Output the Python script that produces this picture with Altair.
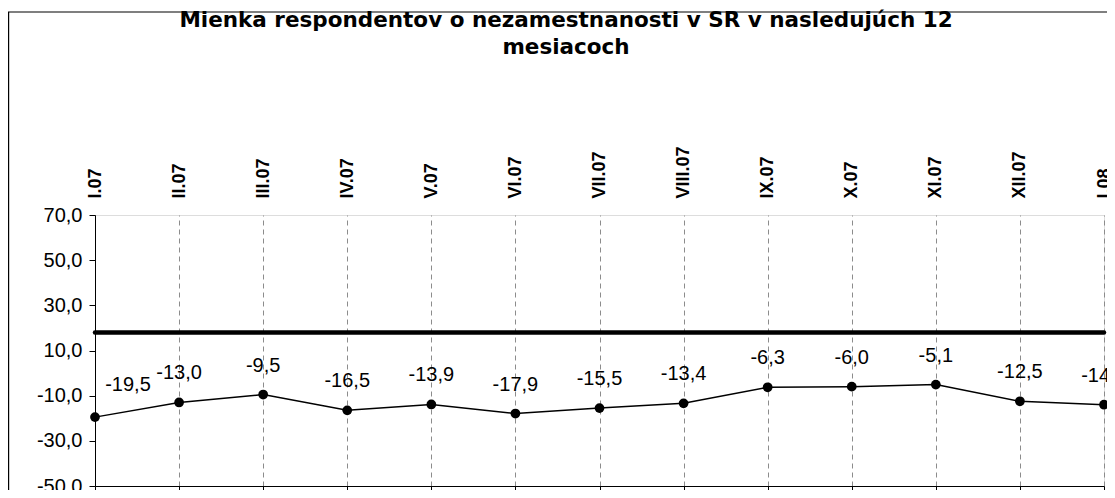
import altair as alt
import pandas as pd

months = ["I.07", "II.07", "III.07", "IV.07", "V.07", "VI.07", "VII.07",
          "VIII.07", "IX.07", "X.07", "XI.07", "XII.07", "I.08"]
values = [-19.5, -13.0, -9.5, -16.5, -13.9, -17.9, -15.5, -13.4,
          -6.3, -6.0, -5.1, -12.5, -14.0]
ref_level = [18.0]
title_lines = ["Mienka respondentov o nezamestnanosti v SR v nasledujúch 12", "mesiacoch"]
y_ticks = [-50, -30, -10, 10, 30, 50, 70]

df = pd.DataFrame({"month": months, "value": values})
df["label"] = [f"{v:.1f}".replace(".", ",") for v in values]
ref_df = pd.DataFrame({"level": ref_level})

FONT = "Liberation Sans"
W, H = 1009, 271
LABEL_EXPR = "replace(replace(format(datum.value, '.1f'), '.', ','), '\u2212', '-')"

x_scale = alt.Scale(type="point", padding=0)
y_scale = alt.Scale(domain=[-50, 70], nice=False, zero=False)

x_top = alt.X("month:O", sort=months, scale=x_scale, title=None,
              axis=alt.Axis(orient="top", labelAngle=-90, labelAlign="left",
                            labelBaseline="middle",
                            labelFont=FONT, labelFontWeight="bold", labelFontSize=18,
                            labelColor="black", labelPadding=17, ticks=False,
                            domain=False, grid=True, gridDash=[5, 4],
                            gridColor="#8c8c8c", gridWidth=1))
x_bottom = alt.X("month:O", sort=months, scale=x_scale, title=None,
                 axis=alt.Axis(orient="bottom", labels=False, ticks=True, tickSize=5,
                               tickColor="black", domain=True, domainColor="black",
                               grid=False))
x_plain = alt.X("month:O", sort=months, scale=x_scale, title=None, axis=None)


def y_axis():
    return alt.Axis(values=y_ticks, labelExpr=LABEL_EXPR,
                    labelFont=FONT, labelFontSize=20, labelColor="black",
                    labelPadding=7, tickSize=6, tickColor="black",
                    domainColor="black", grid=False)


y_enc = alt.Y("value:Q", scale=y_scale, title=None, axis=y_axis())

base = alt.Chart(df)

line = base.mark_line(color="black", strokeWidth=1.5).encode(x=x_top, y=y_enc)
bottom_axis = base.mark_line(opacity=0).encode(x=x_bottom, y=y_enc)
points = base.mark_circle(color="black", opacity=1, size=95).encode(x=x_plain, y=y_enc)
labels_first = base.mark_text(font=FONT, fontSize=20, color="black", dx=33, dy=-32,
                              baseline="middle").encode(
    x=x_plain, y=y_enc, text="label:N").transform_filter(alt.datum.month == months[0])
labels_rest = base.mark_text(font=FONT, fontSize=20, color="black", dy=-29,
                             baseline="middle").encode(
    x=x_plain, y=y_enc, text="label:N").transform_filter(alt.datum.month != months[0])
rule = alt.Chart(ref_df).mark_rule(color="black", strokeWidth=4.5, strokeCap="round").encode(
    y=alt.Y("level:Q", scale=y_scale, title=None, axis=y_axis()))

deco = alt.Chart(alt.Data(values=[{}]))
frame = deco.mark_rect(fill=None, stroke="black", strokeWidth=1.2).encode(
    x=alt.value(-86.4), x2=alt.value(W + 40), y=alt.value(-203), y2=alt.value(H + 40))
title1 = deco.mark_text(font="DejaVu Sans", fontSize=21.5, fontWeight="bold", color="black",
                        baseline="middle", align="center").encode(
    x=alt.value(471), y=alt.value(-194), text=alt.value(title_lines[0]))
title2 = deco.mark_text(font="DejaVu Sans", fontSize=21.5, fontWeight="bold", color="black",
                        baseline="middle", align="center").encode(
    x=alt.value(471), y=alt.value(-167), text=alt.value(title_lines[1]))

chart = alt.layer(frame, title1, title2, line, bottom_axis, rule, points,
                  labels_first, labels_rest).resolve_axis(
    x="independent").properties(
    width=W, height=H,
    autosize=alt.AutoSizeParams(type="none"),
    padding={"left": 87, "top": 207, "right": 3, "bottom": 4},
).configure_view(stroke="black", strokeWidth=1).configure(background="white")

chart.save("out.html", embed_options={"renderer": "svg", "actions": False})
